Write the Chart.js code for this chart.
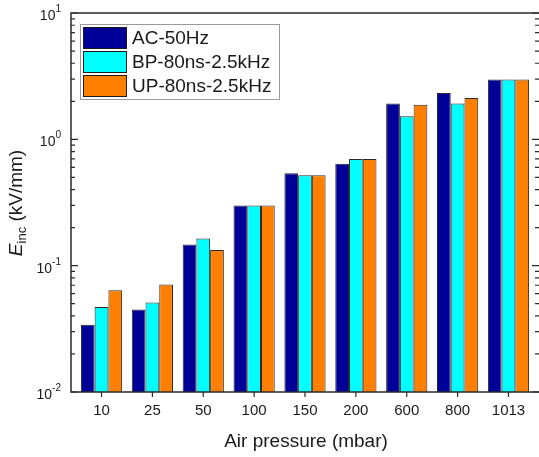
<!DOCTYPE html>
<html>
<head>
<meta charset="utf-8">
<script src="https://cdn.jsdelivr.net/npm/chart.js@4/dist/chart.umd.min.js"></script>
<style>
  html, body { margin: 0; padding: 0; background: #ffffff; }
  canvas { display: block; }
</style>
</head>
<body>
<canvas id="chart" width="539" height="457"></canvas>
<script>
// Inception field vs. air pressure for three excitation types
const pressures = ['10', '25', '50', '100', '150', '200', '600', '800', '1013'];
const seriesNames = ['AC-50Hz', 'BP-80ns-2.5kHz', 'UP-80ns-2.5kHz'];
const acValues = [0.034, 0.045, 0.147, 0.30, 0.54, 0.64, 1.92, 2.33, 2.97];
const bpValues = [0.047, 0.051, 0.164, 0.30, 0.52, 0.70, 1.52, 1.92, 2.97];
const upValues = [0.064, 0.071, 0.133, 0.30, 0.52, 0.70, 1.88, 2.12, 2.97];
const yDecades = [0.01, 0.1, 1, 10];
const yExponents = ['-2', '-1', '0', '1'];
const seriesColors = ['#000099', '#00FFFF', '#FF8000'];

const FONT = "'Liberation Sans', Arial, sans-serif";

function toPoints(values) {
  return values.map((v, i) => ({ x: i + 1, y: v }));
}

const datasets = [acValues, bpValues, upValues].map((vals, k) => ({
  label: seriesNames[k],
  data: toPoints(vals),
  backgroundColor: seriesColors[k],
  borderColor: '#2a2a2a',
  borderWidth: 1,
  categoryPercentage: 0.81,
  barPercentage: 1.0
}));

// Frame, ticks, labels and legend drawn on top of the bars
const framePlugin = {
  id: 'frame',
  afterDraw(chart) {
    const { ctx, chartArea: a, scales } = chart;
    const xs = scales.x, ys = scales.y;
    ctx.save();

    // axis frame (left, top, bottom)
    ctx.strokeStyle = '#2b2b2b';
    ctx.lineWidth = 1.5;
    ctx.beginPath();
    ctx.moveTo(a.left, a.top); ctx.lineTo(a.left, a.bottom);
    ctx.moveTo(a.left - 0.75, a.top); ctx.lineTo(a.right, a.top);
    ctx.moveTo(a.left - 0.75, a.bottom); ctx.lineTo(a.right, a.bottom);
    ctx.stroke();

    // y ticks: majors at decades, minors at 2..9
    ctx.lineWidth = 1.2;
    ctx.beginPath();
    yDecades.forEach((d, i) => {
      const py = ys.getPixelForValue(d);
      ctx.moveTo(a.left, py); ctx.lineTo(a.left + 7, py);
      ctx.moveTo(a.right, py); ctx.lineTo(a.right - 7, py);
      if (i < yDecades.length - 1) {
        for (let m = 2; m <= 9; m++) {
          const pm = ys.getPixelForValue(d * m);
          ctx.moveTo(a.left, pm); ctx.lineTo(a.left + 4, pm);
          ctx.moveTo(a.right, pm); ctx.lineTo(a.right - 4, pm);
        }
      }
    });
    // x ticks outward at each category
    pressures.forEach((p, i) => {
      const px = xs.getPixelForValue(i + 1);
      ctx.moveTo(px, a.bottom); ctx.lineTo(px, a.bottom + 5);
    });
    ctx.stroke();

    // y tick labels: 10 with a raised exponent
    ctx.fillStyle = '#1a1a1a';
    yDecades.forEach((d, i) => {
      const py = ys.getPixelForValue(d);
      ctx.font = '14px ' + FONT;
      const wBase = ctx.measureText('10').width;
      ctx.font = '10px ' + FONT;
      const wExp = ctx.measureText(yExponents[i]).width;
      const right = 61;
      const x0 = right - wExp - wBase;
      ctx.textBaseline = 'alphabetic';
      ctx.textAlign = 'left';
      ctx.font = '14px ' + FONT;
      ctx.fillText('10', x0, py + 7);
      ctx.font = '10px ' + FONT;
      ctx.fillText(yExponents[i], x0 + wBase, py - 1);
    });

    // x tick labels
    ctx.font = '15px ' + FONT;
    ctx.textAlign = 'center';
    ctx.textBaseline = 'middle';
    pressures.forEach((p, i) => {
      ctx.fillText(p, xs.getPixelForValue(i + 1), 411);
    });

    // x title
    ctx.font = '19px ' + FONT;
    ctx.fillText('Air pressure (mbar)', 306, 442);

    // y title: E_inc (kV/mm), rotated
    ctx.save();
    ctx.translate(17, 203);
    ctx.rotate(-Math.PI / 2);
    ctx.textAlign = 'left';
    ctx.textBaseline = 'middle';
    ctx.font = 'italic 19px ' + FONT;
    const wE = ctx.measureText('E').width;
    ctx.font = '13px ' + FONT;
    const wSub = ctx.measureText('inc').width;
    ctx.font = '19px ' + FONT;
    const wRest = ctx.measureText(' (kV/mm)').width;
    let tx = -(wE + wSub + wRest) / 2;
    ctx.font = 'italic 19px ' + FONT;
    ctx.fillText('E', tx, 0); tx += wE;
    ctx.font = '13px ' + FONT;
    ctx.fillText('inc', tx, 5); tx += wSub;
    ctx.font = '19px ' + FONT;
    ctx.fillText(' (kV/mm)', tx, 0);
    ctx.restore();

    // legend
    const lx = 80.5, ly = 24.5, lw = 199, lh = 75;
    ctx.fillStyle = '#ffffff';
    ctx.fillRect(lx, ly, lw, lh);
    ctx.strokeStyle = '#9a9a9a';
    ctx.lineWidth = 1;
    ctx.strokeRect(lx, ly, lw, lh);
    chart.data.datasets.forEach((ds, k) => {
      const sy = 27.5 + k * 24;
      ctx.fillStyle = ds.backgroundColor;
      ctx.fillRect(83.5, sy, 43, 21);
      ctx.strokeStyle = '#1a1a1a';
      ctx.lineWidth = 1;
      ctx.strokeRect(83.5, sy, 43, 21);
      ctx.fillStyle = '#1a1a1a';
      ctx.font = '19px ' + FONT;
      ctx.textAlign = 'left';
      ctx.textBaseline = 'middle';
      ctx.fillText(ds.label, 132, sy + 11);
    });

    ctx.restore();
  }
};

new Chart(document.getElementById('chart'), {
  type: 'bar',
  data: { datasets },
  plugins: [framePlugin],
  options: {
    responsive: false,
    animation: false,
    devicePixelRatio: 1,
    layout: { padding: { left: 71, top: 13, right: 0, bottom: 65 } },
    plugins: { legend: { display: false }, tooltip: { enabled: false } },
    scales: {
      x: {
        type: 'linear',
        min: 0.4,
        max: 9.6,
        offset: false,
        ticks: { display: false },
        grid: { display: false },
        border: { display: false },
        afterFit(s) { s.height = 0; }
      },
      y: {
        type: 'logarithmic',
        min: 0.01,
        max: 10,
        ticks: { display: false },
        grid: { display: false },
        border: { display: false },
        afterFit(s) { s.width = 0; }
      }
    }
  }
});
</script>
</body>
</html>
